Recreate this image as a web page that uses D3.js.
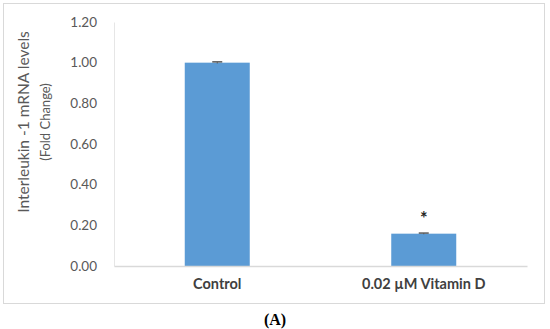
<!DOCTYPE html>
<html>
<head>
<meta charset="utf-8">
<script src="https://cdn.jsdelivr.net/npm/d3@7"></script>
<style>
body { margin: 0; background: #fff; }
svg { display: block; }
</style>
</head>
<body>
<svg id="chart"></svg>
<script>
const categories = ["Control", "0.02 \u00b5M Vitamin D"];
const values = [1.0, 0.159];
const errors = [0.004, 0.003];
const marks = ["", "*"];
const yTicks = [0, 0.2, 0.4, 0.6, 0.8, 1.0, 1.2];

const svg = d3.select("#chart")
  .attr("width", 550)
  .attr("height", 329);

// outer frame
svg.append("rect")
  .attr("x", 3.5).attr("y", 3.5)
  .attr("width", 541).attr("height", 300)
  .attr("fill", "#fff")
  .attr("stroke", "#d9d9d9");

const x = d3.scaleBand()
  .domain(categories)
  .range([114, 527])
  .padding(0);

const y = d3.scaleLinear()
  .domain([0, 1.2])
  .range([266, 22]);

const barW = 65;

// y axis
const yAxis = svg.append("g")
  .attr("transform", "translate(114,0)")
  .call(d3.axisLeft(y).tickValues(yTicks).tickFormat(d3.format(".2f")).tickSize(0).tickPadding(17));
yAxis.select(".domain").attr("stroke", "#e6e6e6");
yAxis.selectAll("text")
  .attr("fill", "#595959")
  .style("font-family", "Lato, 'Open Sans', sans-serif")
  .style("font-size", "13.5px");

// bars
svg.selectAll("rect.bar")
  .data(values)
  .enter()
  .append("rect")
  .attr("class", "bar")
  .attr("x", (d, i) => x(categories[i]) + x.bandwidth() / 2 - barW / 2)
  .attr("y", d => y(d))
  .attr("width", barW)
  .attr("height", d => y(0) - y(d))
  .attr("fill", "#5b9bd5");

// error bars
const err = svg.selectAll("g.err")
  .data(values)
  .enter()
  .append("g")
  .attr("class", "err");
err.append("line")
  .attr("x1", (d, i) => x(categories[i]) + x.bandwidth() / 2)
  .attr("x2", (d, i) => x(categories[i]) + x.bandwidth() / 2)
  .attr("y1", (d, i) => y(d + errors[i]))
  .attr("y2", (d, i) => y(d - errors[i]))
  .attr("stroke", "#595959");
err.append("line")
  .attr("x1", (d, i) => x(categories[i]) + x.bandwidth() / 2 - 5)
  .attr("x2", (d, i) => x(categories[i]) + x.bandwidth() / 2 + 5)
  .attr("y1", (d, i) => y(d + errors[i]))
  .attr("y2", (d, i) => y(d + errors[i]))
  .attr("stroke", "#595959")
  .attr("stroke-width", 1.5);

// significance marks
svg.selectAll("text.mark")
  .data(values)
  .enter()
  .append("text")
  .attr("class", "mark")
  .attr("x", (d, i) => x(categories[i]) + x.bandwidth() / 2)
  .attr("y", (d, i) => y(d + errors[i]) - 8)
  .attr("text-anchor", "middle")
  .style("font-family", "Lato, sans-serif")
  .style("font-size", "18px")
  .style("font-weight", "bold")
  .attr("fill", "#262626")
  .text((d, i) => marks[i]);

// x axis
const xAxis = svg.append("g")
  .attr("transform", "translate(0,266)")
  .call(d3.axisBottom(x).tickSize(0).tickPadding(13));
xAxis.select(".domain").attr("stroke", "#d9d9d9").attr("stroke-width", 1.5);
xAxis.selectAll("text")
  .attr("fill", "#404040")
  .style("font-family", "Lato, 'Open Sans', sans-serif")
  .style("font-size", "14.5px")
  .style("font-weight", "bold");

// y axis title
const title = svg.append("text")
  .attr("transform", "translate(29,122) rotate(-90)")
  .attr("text-anchor", "middle")
  .attr("fill", "#595959")
  .style("font-family", "Lato, 'Open Sans', sans-serif");
title.append("tspan")
  .attr("x", 0).attr("y", 0)
  .style("font-size", "15.5px")
  .text("Interleukin -1 mRNA levels");
title.append("tspan")
  .attr("x", 0).attr("y", 21)
  .style("font-size", "13px")
  .text("(Fold Change)");

// panel label
svg.append("text")
  .attr("x", 275).attr("y", 325)
  .attr("text-anchor", "middle")
  .attr("fill", "#000")
  .style("font-family", "'Liberation Serif', 'DejaVu Serif', serif")
  .style("font-size", "16px")
  .style("font-weight", "bold")
  .text("(A)");
</script>
</body>
</html>
